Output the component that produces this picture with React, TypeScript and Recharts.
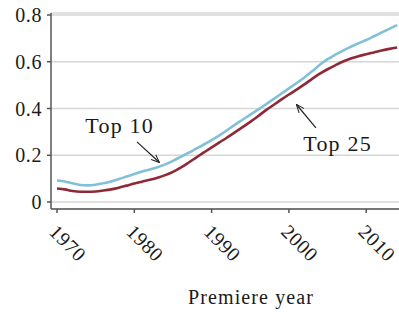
import React from "react";
import {
  LineChart,
  Line,
  XAxis,
  YAxis,
  CartesianGrid,
  ReferenceLine,
  ReferenceDot,
} from "recharts";

const years = [
  1970, 1971, 1972, 1973, 1974, 1975, 1976, 1977, 1978, 1979,
  1980, 1981, 1982, 1983, 1984, 1985, 1986, 1987, 1988, 1989,
  1990, 1991, 1992, 1993, 1994, 1995, 1996, 1997, 1998, 1999,
  2000, 2001, 2002, 2003, 2004, 2005, 2006, 2007, 2008, 2009,
  2010, 2011, 2012, 2013, 2014,
];

const top10 = [
  0.092, 0.088, 0.08, 0.073, 0.071, 0.074, 0.08, 0.088, 0.098, 0.109,
  0.12, 0.13, 0.139, 0.149, 0.161, 0.176, 0.193, 0.21, 0.228, 0.246,
  0.265, 0.285, 0.307, 0.33, 0.352, 0.374, 0.395, 0.417, 0.44, 0.463,
  0.486, 0.509, 0.533, 0.559, 0.587, 0.611, 0.63, 0.648, 0.664, 0.679,
  0.693, 0.709, 0.725, 0.741, 0.757,
];

const top25 = [
  0.058, 0.054, 0.047, 0.044, 0.044, 0.045, 0.049, 0.054, 0.061, 0.07,
  0.079, 0.087, 0.095, 0.104, 0.115, 0.129, 0.147, 0.168, 0.19, 0.212,
  0.234, 0.255, 0.276, 0.298, 0.32, 0.343, 0.367, 0.392, 0.415, 0.438,
  0.46, 0.481, 0.503, 0.527, 0.549, 0.568, 0.585, 0.601, 0.614, 0.624,
  0.632, 0.64, 0.648, 0.655, 0.661,
];

const xTicks = [1970, 1980, 1990, 2000, 2010];
const yTicks = [0, 0.2, 0.4, 0.6, 0.8];

const data = years.map((year, i) => ({ year, top10: top10[i], top25: top25[i] }));

const FONT = "Liberation Serif, Times New Roman, serif";
const BLUE = "#82c0d8";
const RED = "#8e2a37";
const AXIS = "#555555";
const INK = "#1a1a1a";

const XTick = (props: any) => {
  const { x, y, payload } = props;
  return (
    <g transform={`translate(${x - 9},${y + 18}) rotate(45)`}>
      <text x={0} y={0} textAnchor="start" fill={INK} style={{ fontFamily: FONT, fontSize: 20, letterSpacing: 0.6 }}>
        {payload.value}
      </text>
    </g>
  );
};

const Arrow = (props: any) => {
  const { x1, y1, x2, y2 } = props;
  return <line x1={x1} y1={y1} x2={x2} y2={y2} stroke="#222" strokeWidth={1.2} markerEnd="url(#arrowHead)" />;
};

export default function App() {
  return (
    <div style={{ position: "absolute", left: 0, top: 0, width: 399, height: 312, background: "#fff", fontFamily: FONT }}>
      <LineChart width={399} height={312} data={data} margin={{ top: 13, right: 0, bottom: 0, left: 0 }} style={{ fontFamily: FONT }}>
        <defs>
          <marker id="arrowHead" viewBox="0 0 10 10" refX="9" refY="5" markerWidth="7" markerHeight="7" orient="auto-start-reverse">
            <path d="M0,1 L10,5 L0,9" fill="none" stroke="#222" strokeWidth={1.2} />
          </marker>
        </defs>
        <CartesianGrid vertical={false} stroke="#d6d6d6" strokeWidth={1.5} />
        <XAxis
          dataKey="year"
          type="number"
          domain={[1969.22, 2014.24]}
          ticks={xTicks}
          tick={<XTick />}
          tickSize={4}
          stroke={AXIS}
          strokeWidth={1.5}
          height={103}
          label={{
            value: "Premiere year",
            position: "insideBottom",
            offset: 8,
            dx: 26,
            fill: INK,
            style: { fontFamily: FONT, fontSize: 20, letterSpacing: 1.1 },
          }}
        />
        <YAxis
          type="number"
          domain={[-0.03, 0.8086]}
          ticks={yTicks}
          width={51}
          tickSize={4}
          tickMargin={5}
          stroke={AXIS}
          strokeWidth={1.5}
          tick={{ fill: INK, style: { fontFamily: FONT, fontSize: 20, letterSpacing: 0.6 } }}
          allowDataOverflow
        />
        <Line type="monotone" dataKey="top25" stroke={RED} strokeWidth={2.6} dot={false} isAnimationActive={false} />
        <Line type="monotone" dataKey="top10" stroke={BLUE} strokeWidth={2.6} dot={false} isAnimationActive={false} />
        <ReferenceLine segment={[{ x: 1980.34, y: 0.257 }, { x: 1983.18, y: 0.171 }]} shape={<Arrow />} />
        <ReferenceLine segment={[{ x: 2003.49, y: 0.317 }, { x: 2001.03, y: 0.415 }]} shape={<Arrow />} />
        <ReferenceDot
          x={1978.1}
          y={0.33}
          r={0}
          label={{ value: "Top 10", position: "center", fill: INK, style: { fontFamily: FONT, fontSize: 22, letterSpacing: 1.2 } }}
        />
        <ReferenceDot
          x={2006.3}
          y={0.252}
          r={0}
          label={{ value: "Top 25", position: "center", fill: INK, style: { fontFamily: FONT, fontSize: 22, letterSpacing: 1.2 } }}
        />
      </LineChart>
    </div>
  );
}
